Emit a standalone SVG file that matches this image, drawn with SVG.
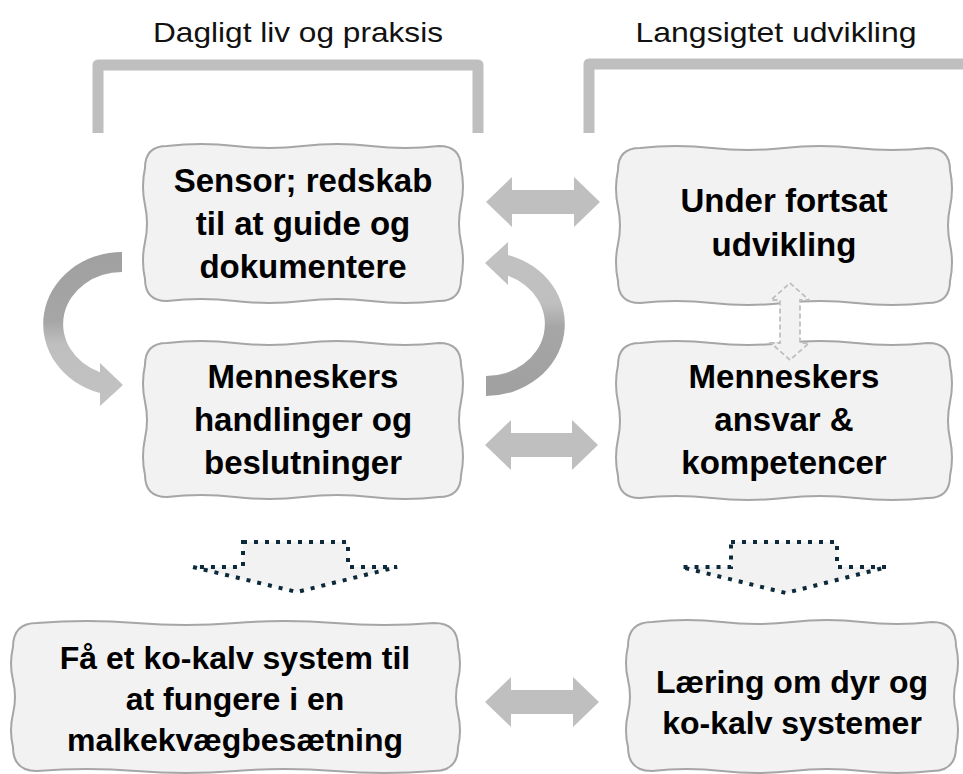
<svg xmlns="http://www.w3.org/2000/svg" width="963" height="774" viewBox="0 0 963 774">
<defs>
<style>
.box{fill:#f2f2f2;stroke:#a6a6a6;stroke-width:2;}
.t{font-family:"Liberation Sans",Arial,sans-serif;font-weight:bold;font-size:33px;fill:#000;text-anchor:middle;}
.tb{font-size:32px;}
.title{font-family:"Liberation Sans",Arial,sans-serif;font-size:28px;fill:#111;text-anchor:middle;}
.bracket{fill:none;stroke:#bfbfbf;stroke-width:11;stroke-linejoin:round;}
.dbl{fill:#bfbfbf;}
.dots{fill:#f2f2f2;stroke:#0d2a3a;stroke-width:4;stroke-dasharray:4 7;}
.dash{fill:#f2f2f2;stroke:#bfbfbf;stroke-width:1.8;stroke-dasharray:5 3;}
</style>
<linearGradient id="ribbon" x1="0" y1="0" x2="0" y2="1">
<stop offset="0" stop-color="#a0a0a0"/>
<stop offset="0.45" stop-color="#a6a6a6"/>
<stop offset="0.6" stop-color="#bfbfbf"/>
<stop offset="1" stop-color="#c2c2c2"/>
</linearGradient>
</defs>
<rect width="963" height="774" fill="#ffffff"/>

<g id="header-left">
<text class="title" x="298" y="42" textLength="290" lengthAdjust="spacingAndGlyphs">Dagligt liv og praksis</text>
<path class="bracket" d="M98,133 L98,65 L478,65 L478,133"/>
</g>
<g id="header-right">
<text class="title" x="776" y="42" textLength="281" lengthAdjust="spacingAndGlyphs">Langsigtet udvikling</text>
<path class="bracket" d="M589,133 L589,64 L975,64"/>
</g>

<g id="node-sensor">
<path class="box" d="M167,146 Q201,142 235,146 T303,146 T371,146 T439,146 Q461,146 461,168 Q465,186.5 461,205 T461,242 T461,279 Q461,301 439,301 Q405,305 371,301 T303,301 T235,301 T167,301 Q145,301 145,279 Q141,260.5 145,242 T145,205 T145,168 Q145,146 167,146 Z"/>
<text class="t" x="303" y="192">Sensor; redskab</text>
<text class="t" x="303" y="235">til at guide og</text>
<text class="t" x="303" y="278">dokumentere</text>
</g>

<g id="node-handlinger">
<path class="box" d="M167,343 Q201,339 235,343 T303,343 T371,343 T439,343 Q461,343 461,365 Q465,383.3 461,401.7 T461,438.3 T461,475 Q461,497 439,497 Q405,501 371,497 T303,497 T235,497 T167,497 Q145,497 145,475 Q141,456.7 145,438.3 T145,401.7 T145,365 Q145,343 167,343 Z"/>
<text class="t" x="303" y="388">Menneskers</text>
<text class="t" x="303" y="431">handlinger og</text>
<text class="t" x="303" y="474">beslutninger</text>
</g>

<g id="node-udvikling">
<path class="box" d="M640,148 Q676,144 712,148 T784,148 T856,148 T928,148 Q950,148 950,170 Q954,188.5 950,207 T950,244 T950,281 Q950,303 928,303 Q892,307 856,303 T784,303 T712,303 T640,303 Q618,303 618,281 Q614,262.5 618,244 T618,207 T618,170 Q618,148 640,148 Z"/>
<text class="t" x="784" y="212">Under fortsat</text>
<text class="t" x="784" y="256">udvikling</text>
</g>

<g id="node-ansvar">
<path class="box" d="M640,343 Q676,339 712,343 T784,343 T856,343 T928,343 Q950,343 950,365 Q954,383.5 950,402 T950,439 T950,476 Q950,498 928,498 Q892,502 856,498 T784,498 T712,498 T640,498 Q618,498 618,476 Q614,457.5 618,439 T618,402 T618,365 Q618,343 640,343 Z"/>
<text class="t" x="784" y="388">Menneskers</text>
<text class="t" x="784" y="431">ansvar &amp;</text>
<text class="t" x="784" y="474">kompetencer</text>
</g>

<g id="node-system">
<path class="box" d="M37,623 Q86.6,619 136.25,623 T235.5,623 T334.75,623 T434,623 Q458,623 458,647 Q462,663.7 458,680.3 T458,713.7 T458,747 Q458,771 434,771 Q384.4,775 334.75,771 T235.5,771 T136.25,771 T37,771 Q13,771 13,747 Q9,730.3 13,713.7 T13,680.3 T13,647 Q13,623 37,623 Z"/>
<text class="t tb" x="235" y="669">Få et ko-kalv system til</text>
<text class="t tb" x="235" y="710">at fungere i en</text>
<text class="t tb" x="235" y="751">malkekvægbesætning</text>
</g>

<g id="node-laering">
<path class="box" d="M652,622 Q687,618 722,622 T792,622 T862,622 T932,622 Q956,622 956,646 Q960,662.8 956,679.7 T956,713.3 T956,747 Q956,771 932,771 Q897,775 862,771 T792,771 T722,771 T652,771 Q628,771 628,747 Q624,730.2 628,713.3 T628,679.7 T628,646 Q628,622 652,622 Z"/>
<text class="t tb" x="792" y="693">Læring om dyr og</text>
<text class="t tb" x="792" y="734">ko-kalv systemer</text>
</g>

<g id="connectors">
<polygon class="dbl" points="486,202 512,177 512,190 574,190 574,177 600,202 574,227 574,214 512,214 512,227"/>
<polygon class="dbl" points="485,445 511,420 511,433 572,433 572,420 598,445 572,470 572,457 511,457 511,470"/>
<polygon class="dbl" points="485,702 511,677 511,690 573,690 573,677 599,702 573,727 573,714 511,714 511,727"/>
<path fill="url(#ribbon)" d="M122,252 A79,72 0 0 0 100,393.1 L100,406 L123,385 L100,363 L100,372.2 A59,52 0 0 1 122,272 Z"/>
<path fill="url(#ribbon)" transform="rotate(180 304 324)" d="M122,252 A79,72 0 0 0 100,393.1 L100,406 L123,385 L100,363 L100,372.2 A59,52 0 0 1 122,272 Z"/>
<polygon class="dash" points="790,283 809,300 800,300 800,343 809,343 790,360 771,343 780,343 780,300 771,300"/>
<polygon class="dots" points="243,542 348,542 348,567 397,567 297,592 193,567 243,567"/>
<polygon class="dots" points="731,542 837,542 837,567 887,567 786,593 681,567 731,567"/>
</g>
</svg>
